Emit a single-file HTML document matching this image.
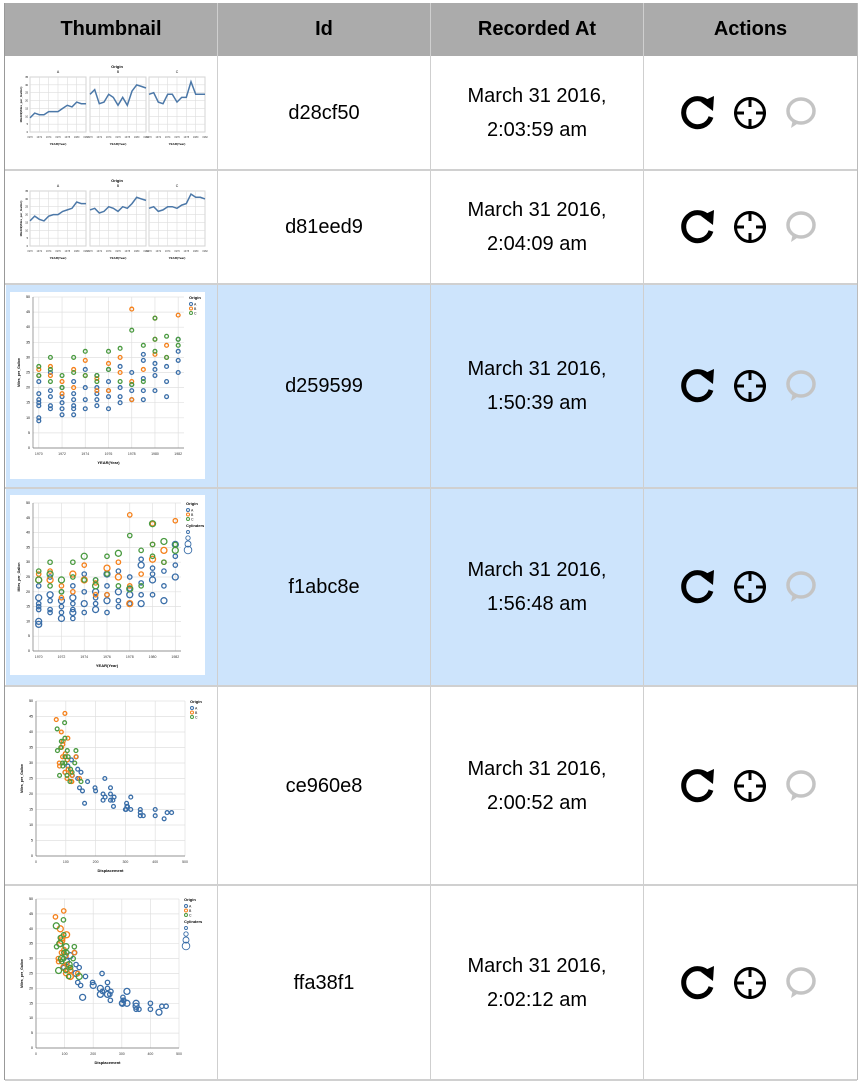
<!DOCTYPE html>
<html><head><meta charset="utf-8">
<style>
body{margin:0;width:863px;height:1085px;background:#fff;position:relative;overflow:hidden;font-family:"Liberation Sans",Arial,sans-serif;}
.abs{position:absolute;}
.hdr{position:absolute;top:3px;height:53px;background:#ababab;font-weight:bold;font-size:20px;line-height:53px;text-align:center;color:#000;}
.cell{position:absolute;display:flex;align-items:center;justify-content:center;text-align:center;font-size:20px;color:#000;line-height:34px;}
.vl{position:absolute;width:1px;background:#cfcfcf;}
.hl{position:absolute;height:2px;background:#d0d0d0;left:5px;width:852px;}
.blue{position:absolute;left:6px;width:851px;background:#cde4fc;}
svg text{font-family:"Liberation Sans",Arial,sans-serif;}
</style></head><body>
<div class="blue" style="top:285px;height:203px"></div>
<div class="blue" style="top:489px;height:197px"></div>
<div class="hdr" style="left:5px;width:212px">Thumbnail</div>
<div class="hdr" style="left:218px;width:212px">Id</div>
<div class="hdr" style="left:431px;width:212px">Recorded At</div>
<div class="hdr" style="left:644px;width:213px">Actions</div>
<div class="vl" style="left:4px;top:3px;height:1077px;background:#999"></div>
<div class="vl" style="left:217px;top:3px;height:1077px"></div>
<div class="vl" style="left:430px;top:3px;height:1077px"></div>
<div class="vl" style="left:643px;top:3px;height:1077px"></div>
<div class="vl" style="left:857px;top:3px;height:1077px;background:#bbb"></div>
<div class="hl" style="top:169px"></div>
<div class="hl" style="top:283px"></div>
<div class="hl" style="top:487px"></div>
<div class="hl" style="top:685px"></div>
<div class="hl" style="top:884px"></div>
<div class="hl" style="top:1079px"></div>
<svg id="thumbs" class="abs" style="left:0;top:0" width="217" height="1085"></svg>
<div id="rows"></div>
<script>
var NS="http://www.w3.org/2000/svg";
var rowIds=["d28cf50","d81eed9","d259599","f1abc8e","ce960e8","ffa38f1"];
var rowDates=["March 31 2016,<br>2:03:59 am","March 31 2016,<br>2:04:09 am","March 31 2016,<br>1:50:39 am","March 31 2016,<br>1:56:48 am","March 31 2016,<br>2:00:52 am","March 31 2016,<br>2:02:12 am"];
var rowTops=[56,170,284,488,686,885];
var rowBots=[170,284,488,686,885,1080];
var rowsEl=document.getElementById('rows');
for(var i=0;i<6;i++){
  var t=rowTops[i],h=rowBots[i]-t,c=t+h/2;
  var d=document.createElement('div');d.className='cell';
  d.style.cssText='left:218px;width:212px;top:'+t+'px;height:'+h+'px';
  d.textContent=rowIds[i];
  
  
  rowsEl.appendChild(d);
  var e=document.createElement('div');e.className='cell';
  e.style.cssText='left:431px;width:212px;top:'+t+'px;height:'+h+'px';
  e.innerHTML=rowDates[i];
  
  
  rowsEl.appendChild(e);
  var s=document.createElementNS(NS,'svg');
  s.setAttribute('width','150');s.setAttribute('height','40');
  s.style.cssText='position:absolute;left:676px;top:'+(c-20)+'px';
  s.innerHTML='<g transform="translate(21,20)"><path d="M13,-7 A14,14 0 1 0 14,4" fill="none" stroke="#000" stroke-width="5"/><path d="M4,-11 L17,-17 L16,-2 Z" fill="#000"/></g>'+
   '<g transform="translate(74,20)"><circle r="14.5" fill="none" stroke="#000" stroke-width="3"/><path d="M0,-16V-6M0,16V6M-16,0H-6M16,0H6" stroke="#000" stroke-width="3"/></g>'+
   '<g transform="translate(125,18)"><ellipse rx="13" ry="12" fill="none" stroke="#c4c4c4" stroke-width="3.5"/><path d="M-8,8 L-10,17 L-1,11" fill="#c4c4c4"/></g>';
  
  
  rowsEl.appendChild(s);
}
var lineYears=[70,71,72,73,74,75,76,77,78,79,80,81,82];
var r1A=[9,12,11,11,13,13,13,15,17,16,19,18,18];
var r1B=[24,27,18,19,24,22,17,22,17,26,30,29,28];
var r1C=[24,25,19,18,24,24,19,22,22,32,24,24,24];
var r2A=[16,19,17,16,19,20,20,22,23,24,28,27,27];
var r2B=[23,24,21,22,25,24,22,25,24,27,31,30,29];
var r2C=[24,25,22,23,25,25,24,26,27,33,31,31,30];
var scYearA=[70,70,70,70,70,70,70,71,71,71,71,71,72,72,72,72,72,73,73,73,73,73,73,74,74,74,74,75,75,75,75,75,76,76,76,76,76,77,77,77,77,78,78,78,78,79,79,79,79,79,80,80,80,80,81,81,81,82,82,82,82];
var scMpgA=[10,14,15,18,16,22,9,13,14,19,17,25,11,13,15,17,20,11,13,14,16,18,22,13,16,20,26,14,16,18,20,24,13,17,19,22,26,15,17,20,27,16,19,21,25,16,19,23,29,31,19,24,26,28,17,22,27,25,29,32,36];
var scYearB=[70,70,71,71,72,72,73,73,74,74,75,75,76,76,77,77,78,78,78,79,80,80,80,81,81,82];
var scMpgB=[24,26,27,24,22,18,26,20,29,24,23,19,28,19,30,25,46,22,16,26,36,31,43,30,34,44];
var scYearC=[70,70,71,71,71,72,72,73,73,74,74,75,75,76,76,77,77,78,78,79,79,80,80,80,81,81,82,82];
var scMpgC=[24,27,30,26,22,20,24,30,25,32,24,24,22,32,26,33,22,39,21,34,22,43,36,32,37,30,36,34];
var dispA=[250,260,300,350,360,400,430,455,440,318,304,307,225,232,198,200,250,258,302,350,400,318,231,250,140,151,173,225,262,305,350,122,140,119,156,135,107,97,146,163];
var dmpgA=[18,16,15,14,13,15,12,14,14,15,17,16,18,19,22,21,20,18,15,13,13,19,25,22,25,27,24,20,19,16,15,26,28,31,21,32,29,27,22,17];
var dispB=[97,104,97,120,79,68,90,108,121,85,98,78,91,97,105,86,89,116,120,134,146,107];
var dmpgB=[27,25,32,24,29,44,36,28,26,40,33,30,37,46,31,35,32,27,24,32,25,38];
var dispC=[79,97,98,83,104,96,89,97,90,105,114,121,116,130,134,151,108,85,71,72];
var dmpgC=[26,30,32,35,26,43,30,38,29,34,24,27,28,30,34,24,32,37,41,34];

var svg=document.getElementById('thumbs');
function el(tag,attrs,parent){var n=document.createElementNS(NS,tag);for(var k in attrs)n.setAttribute(k,attrs[k]);(parent||svg).appendChild(n);return n;}
function lineThumb(top,series){
  var bg=el('rect',{x:8,y:top+5,width:202,height:105,fill:'#fff'});
  
  
  var t=el('text',{x:117,y:top+12,'font-size':4,'text-anchor':'middle','font-weight':'bold'});t.textContent='Origin';
  var px=[30,90,149],pw=56,y0=top+21,ph=55;
  var labs=['A','B','C'];
  for(var p=0;p<3;p++){
    var x0=px[p];
    var l=el('text',{x:x0+pw/2,y:top+17,'font-size':3.5,'text-anchor':'middle'});l.textContent=labs[p];
    el('rect',{x:x0,y:y0,width:pw,height:ph,fill:'#fff',stroke:'#bbb','stroke-width':0.8});
    for(var g=0;g<=7;g++)el('line',{x1:x0,x2:x0+pw,y1:y0+ph*g/7,y2:y0+ph*g/7,stroke:'#ddd','stroke-width':0.6});
    for(var g2=0;g2<lineYears.length;g2+=2)el('line',{x1:x0+pw*g2/12,x2:x0+pw*g2/12,y1:y0,y2:y0+ph,stroke:'#ddd','stroke-width':0.6});
    var pts=series[p].map(function(v,j){return (x0+pw*(lineYears[j]-70)/12).toFixed(1)+','+(y0+ph-ph*v/35).toFixed(1);}).join(' ');
    var pl=el('polyline',{points:pts,fill:'none',stroke:'#4c78a8','stroke-width':1.5});
    
    
    for(var k=0;k<lineYears.length;k+=2){var tx=el('text',{x:x0+pw*k/12,y:y0+ph+6,'font-size':2.5,'text-anchor':'middle',fill:'#444'});tx.textContent=String(19)+lineYears[k];}
    var at=el('text',{x:x0+pw/2,y:y0+ph+13,'font-size':3,'text-anchor':'middle','font-weight':'bold'});at.textContent='YEAR(Year)';
  }
  var yt=el('text',{x:22,y:y0+ph/2,'font-size':3,'text-anchor':'middle','font-weight':'bold',transform:'rotate(-90 22 '+(y0+ph/2)+')'});yt.textContent='MEAN(Miles_per_Gallon)';
  for(var v=0;v<=35;v+=5){var ty=el('text',{x:28,y:y0+ph-ph*v/35+1,'font-size':2.5,'text-anchor':'end'});ty.textContent=v;}
}
lineThumb(56,[r1A,r1B,r1C]);
lineThumb(170,[r2A,r2B,r2C]);

function scatterThumb(o){
  var bg=el('rect',{x:o.bx,y:o.by,width:o.bw,height:o.bh,fill:'#fff'});
  
  
  var X=function(v){return o.x0+(v-o.xmin)/(o.xmax-o.xmin)*o.w;};
  var Y=function(v){return o.y0+o.h-v/50*o.h;};
  for(var g=0;g<=10;g++)el('line',{x1:o.x0,x2:o.x0+o.w,y1:Y(g*5),y2:Y(g*5),stroke:'#e0e0e0','stroke-width':0.7});
  o.xt.forEach(function(v){el('line',{x1:X(v),x2:X(v),y1:o.y0,y2:o.y0+o.h,stroke:'#e0e0e0','stroke-width':0.7});
    var tx=el('text',{x:X(v),y:o.y0+o.h+7,'font-size':3.5,'text-anchor':'middle',fill:'#333'});tx.textContent=o.xlab(v);});
  el('line',{x1:o.x0,x2:o.x0,y1:o.y0,y2:o.y0+o.h,stroke:'#777','stroke-width':0.7});
  el('line',{x1:o.x0,x2:o.x0+o.w,y1:o.y0+o.h,y2:o.y0+o.h,stroke:'#777','stroke-width':0.7});
  for(var v=0;v<=50;v+=5){var ty=el('text',{x:o.x0-3,y:Y(v)+1,'font-size':3.5,'text-anchor':'end'});ty.textContent=v;}
  var yt=el('text',{x:o.x0-13,y:o.y0+o.h/2,'font-size':3.5,'font-weight':'bold','text-anchor':'middle',transform:'rotate(-90 '+(o.x0-13)+' '+(o.y0+o.h/2)+')'});yt.textContent='Miles_per_Gallon';
  var xt=el('text',{x:o.x0+o.w/2,y:o.y0+o.h+16,'font-size':4,'font-weight':'bold','text-anchor':'middle'});xt.textContent=o.xtitle;
  var cols=['#3a6ea8','#f5801a','#4a9a40'];
  o.series.forEach(function(s,si){s[0].forEach(function(xv,j){
    var r=o.big?(j%3===0?3:2.2):1.9;
    var c=el('circle',{cx:X(xv),cy:Y(s[1][j]),r:r,fill:'none',stroke:cols[si],'stroke-width':1.3});
    
    
  });});
  var lx=o.x0+o.w+7,ly=o.y0+2;
  var lt=el('text',{x:lx-2,y:ly,'font-size':4,'font-weight':'bold'});lt.textContent='Origin';
  ['A','B','C'].forEach(function(n,i){el('circle',{cx:lx,cy:ly+5+i*4.5,r:1.5,fill:'none',stroke:cols[i],'stroke-width':1});var tt=el('text',{x:lx+3,y:ly+6.5+i*4.5,'font-size':3.5});tt.textContent=n;});
  if(o.big){var ct=el('text',{x:lx-2,y:ly+22,'font-size':4,'font-weight':'bold'});ct.textContent='Cylinders';
    [1.5,2.2,3,3.8].forEach(function(r,i){el('circle',{cx:lx,cy:ly+27+i*6,r:r,fill:'none',stroke:'#3a6ea8','stroke-width':0.9});});}
}
var yr=function(v){return '19'+v;};
scatterThumb({bx:10,by:292,bw:195,bh:187,x0:33,y0:297,w:151,h:151,xmin:69.5,xmax:82.5,xt:[70,72,74,76,78,80,82],xlab:yr,xtitle:'YEAR(Year)',series:[[scYearA,scMpgA],[scYearB,scMpgB],[scYearC,scMpgC]]});
scatterThumb({bx:10,by:495,bw:195,bh:180,x0:33,y0:503,w:148,h:148,xmin:69.5,xmax:82.5,xt:[70,72,74,76,78,80,82],xlab:yr,xtitle:'YEAR(Year)',big:true,series:[[scYearA,scMpgA],[scYearB,scMpgB],[scYearC,scMpgC]]});
scatterThumb({bx:18,by:695,bw:190,bh:180,x0:36,y0:701,w:149,h:155,xmin:0,xmax:500,xt:[0,100,200,300,400,500],xlab:function(v){return v;},xtitle:'Displacement',series:[[dispA,dmpgA],[dispB,dmpgB],[dispC,dmpgC]]});
scatterThumb({bx:18,by:893,bw:190,bh:180,x0:36,y0:899,w:143,h:149,xmin:0,xmax:500,xt:[0,100,200,300,400,500],xlab:function(v){return v;},xtitle:'Displacement',big:true,series:[[dispA,dmpgA],[dispB,dmpgB],[dispC,dmpgC]]});
</script>
</body></html>
